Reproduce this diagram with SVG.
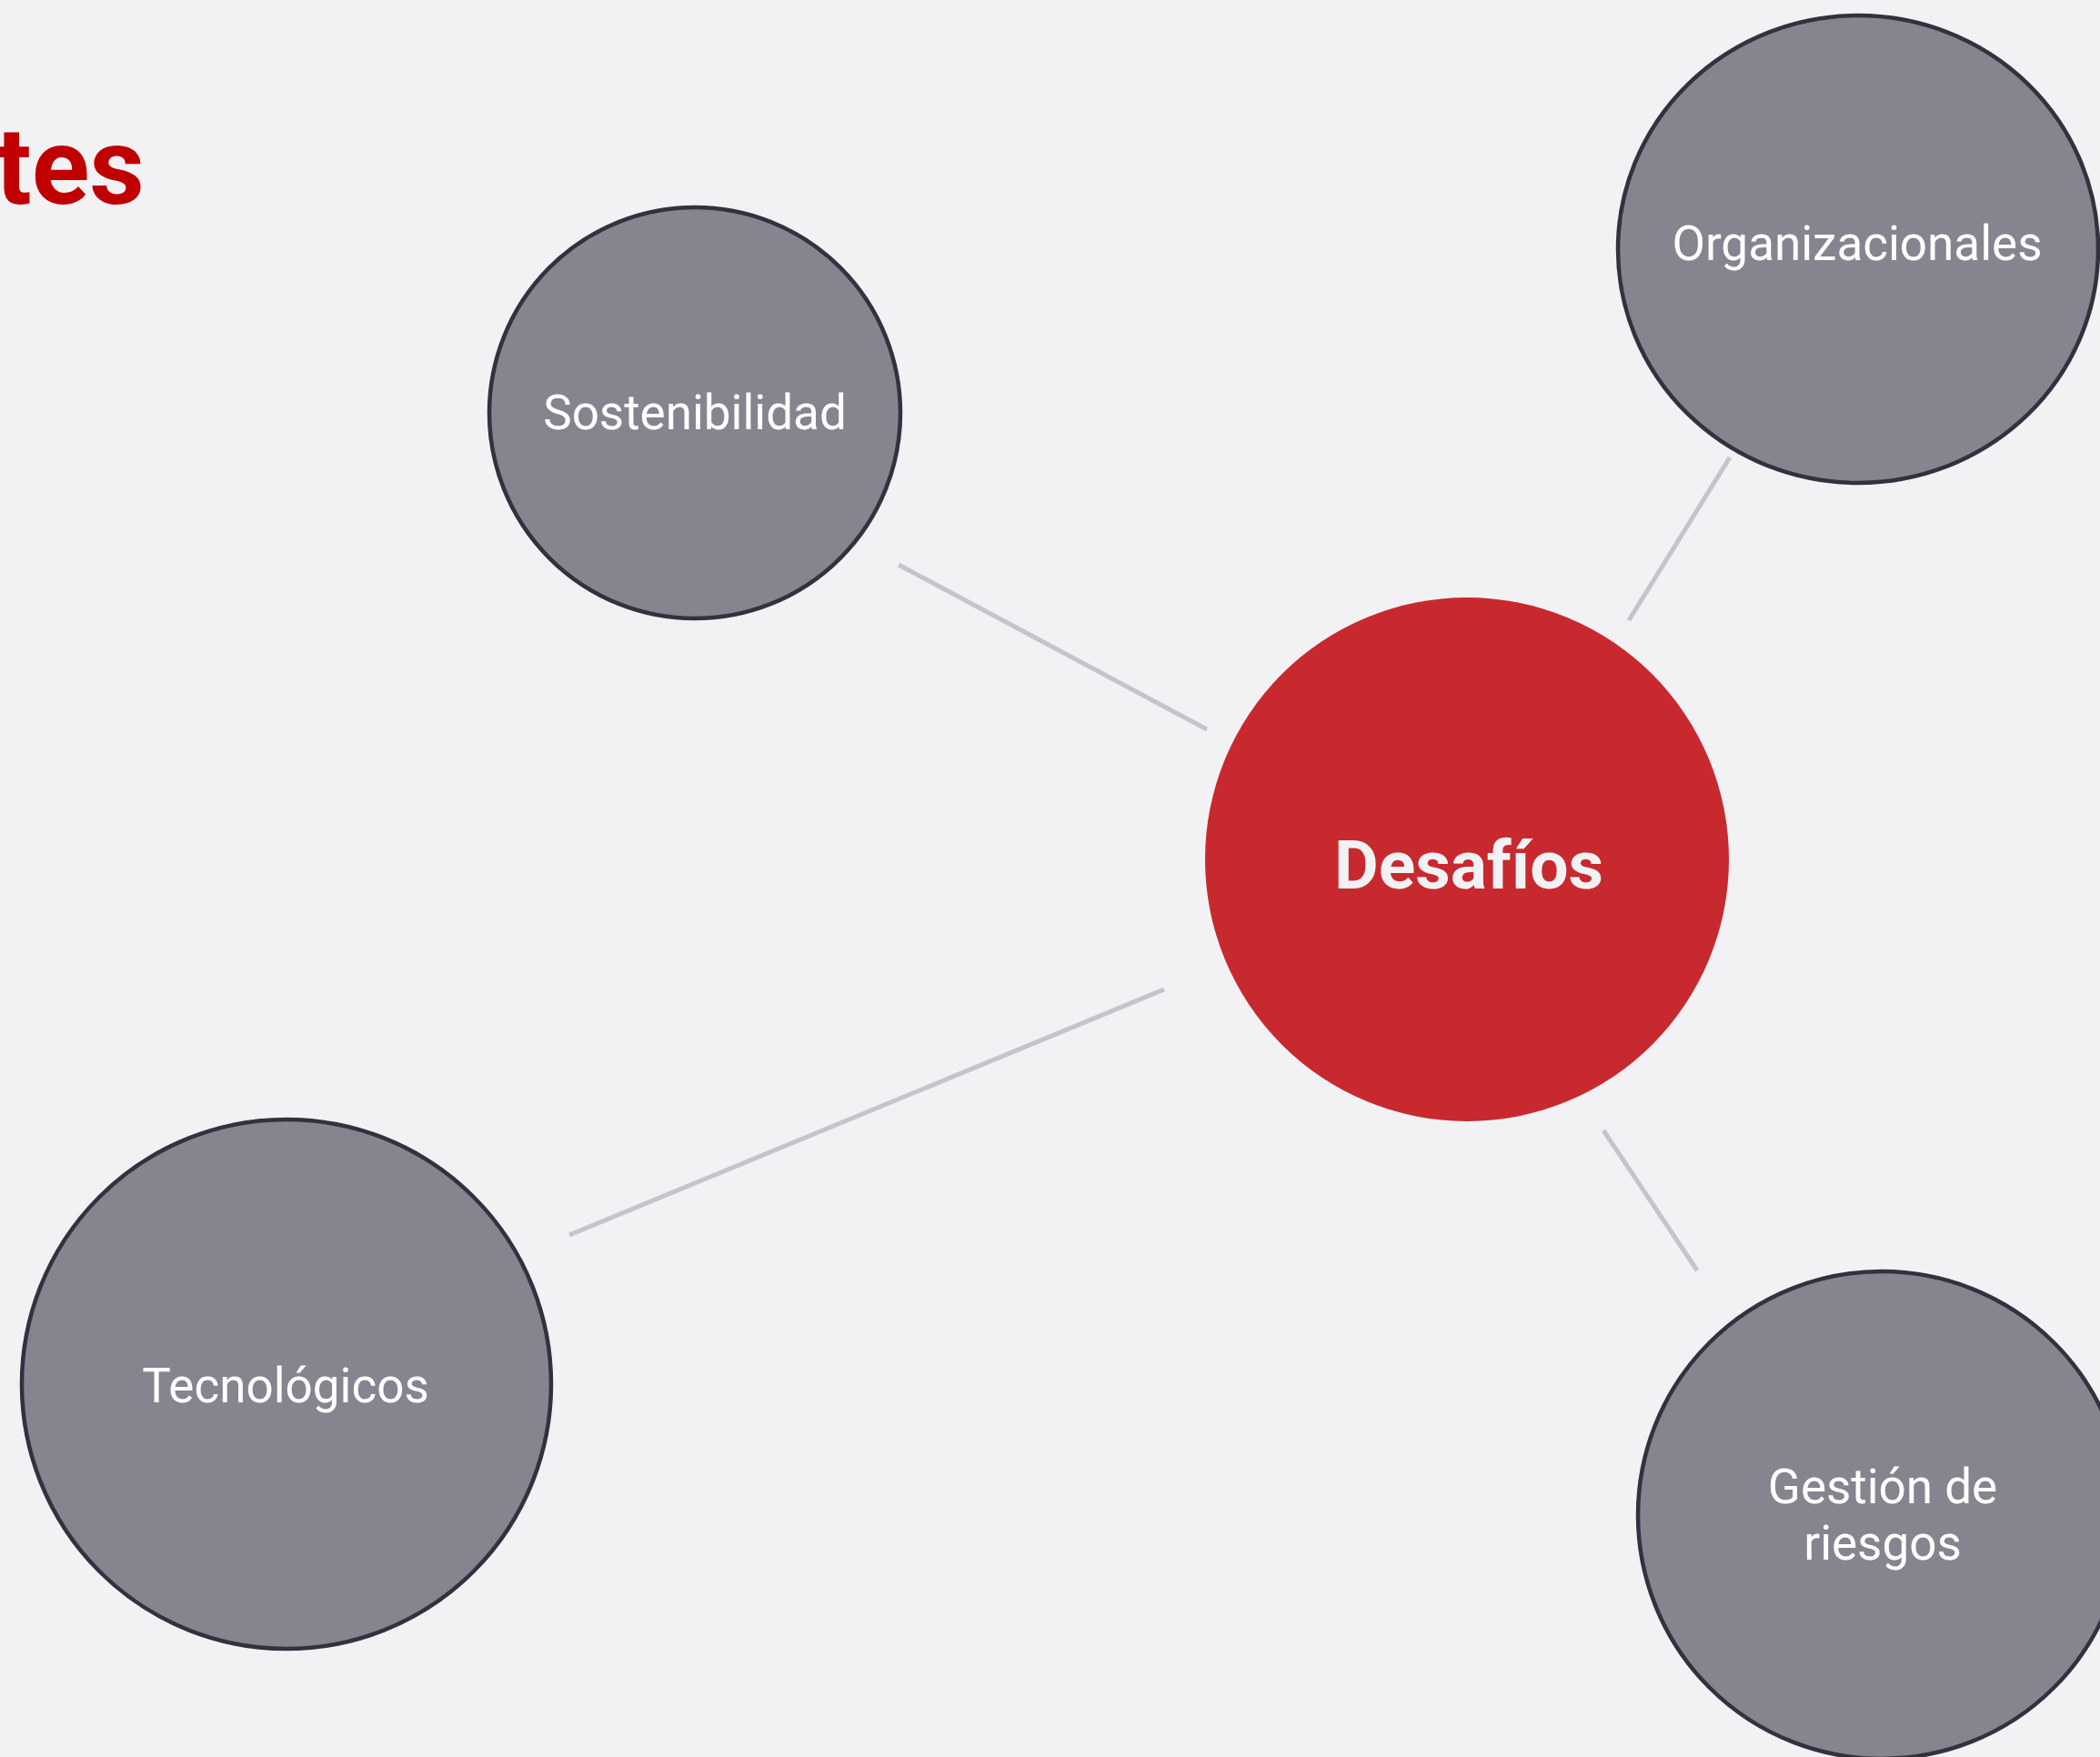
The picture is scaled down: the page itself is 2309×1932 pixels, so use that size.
<svg xmlns="http://www.w3.org/2000/svg" width="2309" height="1932" viewBox="0 0 2309 1932">
<style>
.bg{fill:#F2F2F4}
.sub{fill:#85858F;stroke:#32323F;stroke-width:4.5}
.main{fill:#C8292F}
.edge{stroke:#C4C4CC;stroke-width:5;fill:none;stroke-linecap:butt}
.lbl{font-family:Roboto,"Liberation Sans",sans-serif;font-size:53px;fill:#FFFFFF;text-anchor:middle}
.mlbl{font-family:Roboto,"Liberation Sans",sans-serif;font-size:75px;font-weight:bold;fill:#F2F2F4;text-anchor:middle}
.title{font-family:Roboto,"Liberation Sans",sans-serif;font-size:118px;font-weight:bold;fill:#C00000;text-anchor:end}
</style>
<rect class="bg" x="0" y="0" width="2309" height="1932"/>
<text class="title" x="159" y="224">tes</text>
<g id="connectors">
<line class="edge" x1="988" y1="621" x2="1327" y2="802"/>
<line class="edge" x1="1902" y1="503" x2="1791" y2="682"/>
<line class="edge" x1="626" y1="1358" x2="1280" y2="1088"/>
<line class="edge" x1="1763" y1="1243" x2="1866" y2="1397"/>
</g>
<g id="node-desafios">
<circle class="main" cx="1613" cy="945" r="288"/>
<text class="mlbl" x="1615" y="977">Desafíos</text>
</g>
<g id="node-sostenibilidad">
<circle class="sub" cx="764" cy="454" r="226"/>
<text class="lbl" x="764" y="472">Sostenibilidad</text>
</g>
<g id="node-organizacionales">
<ellipse class="sub" cx="2043" cy="274" rx="264" ry="257"/>
<text class="lbl" x="2042" y="286">Organizacionales</text>
</g>
<g id="node-tecnologicos">
<circle class="sub" cx="315" cy="1522" r="291"/>
<text class="lbl" x="314" y="1542">Tecnológicos</text>
</g>
<g id="node-gestion">
<circle class="sub" cx="2069" cy="1666" r="268"/>
<text class="lbl" x="2070" y="1653">Gestión de</text>
<text class="lbl" x="2070" y="1715">riesgos</text>
</g>
</svg>
